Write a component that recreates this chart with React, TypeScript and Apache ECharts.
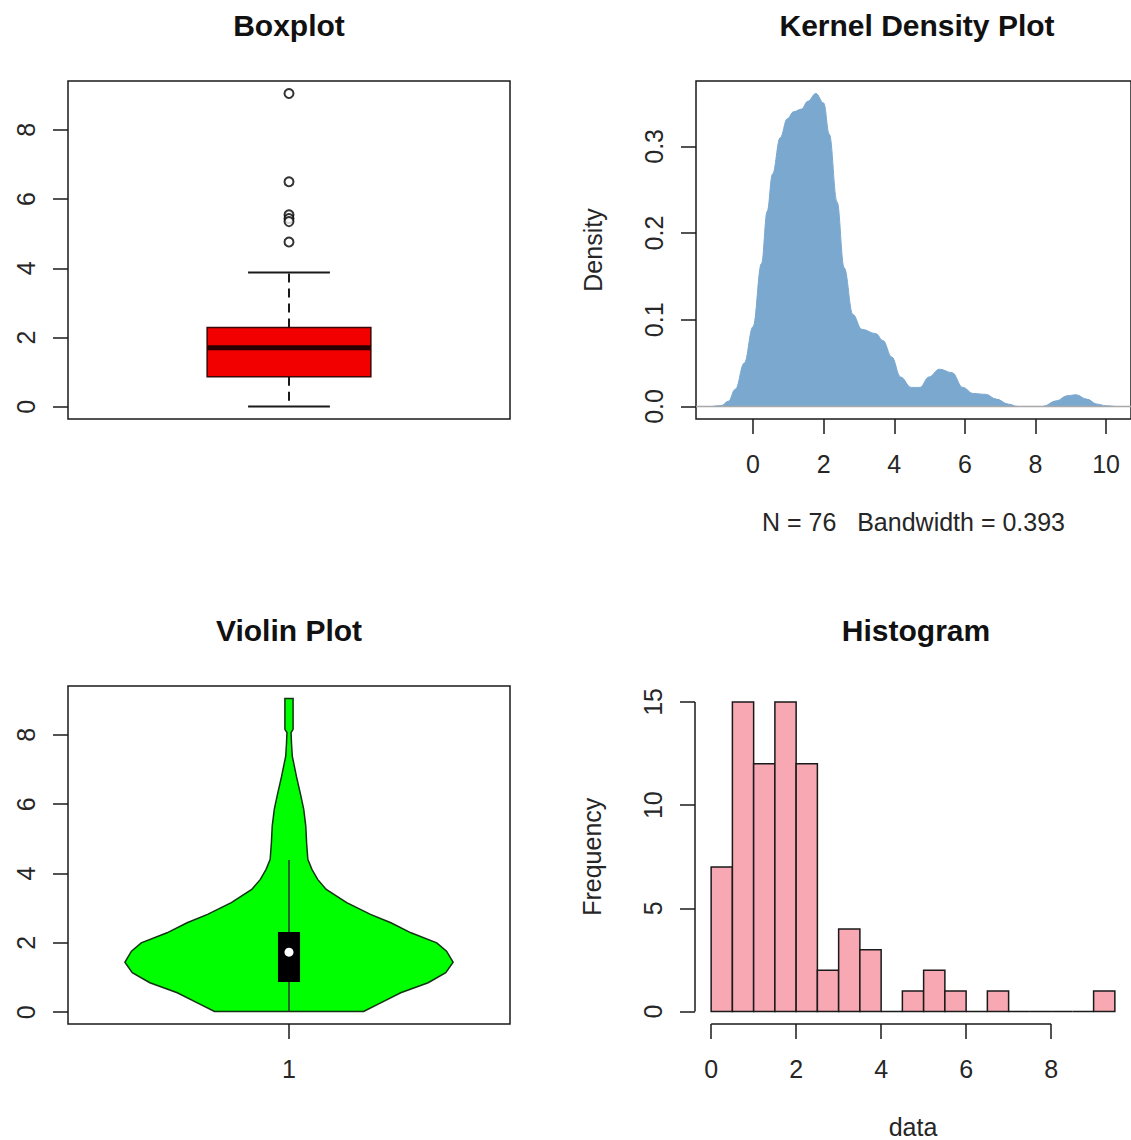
import React, { useEffect, useRef } from "react";
import * as echarts from "echarts";

const FONT = '"Liberation Sans", Arial, Helvetica, sans-serif';
const INK = "#1a1a1a";
const TEXT = "#262626";

const panelTitles = ["Boxplot", "Kernel Density Plot", "Violin Plot", "Histogram"];

// Boxplot summary: lower whisker, Q1, median, Q3, upper whisker
const boxStats = [0.01, 0.87, 1.71, 2.29, 3.88];
const boxOutliers = [9.05, 6.5, 5.55, 5.44, 5.35, 4.76];
const boxYTicks = [0, 2, 4, 6, 8];

// Kernel density estimate (x grid and density)
const kdeX = [
  -1.16, -0.9, -0.7, -0.5, -0.25, 0.0, 0.24, 0.4, 0.55, 0.77, 0.97, 1.15, 1.37, 1.55, 1.78, 2.0,
  2.16, 2.38, 2.58, 2.83, 3.08, 3.48, 3.68, 3.93, 4.18, 4.48, 4.73, 4.98, 5.28, 5.64, 5.94, 6.24,
  6.59, 6.89, 7.24, 7.5, 8.2, 8.6, 8.9, 9.15, 9.45, 9.75, 10.0, 10.25,
];
const kdeY = [
  0, 0.001, 0.006, 0.02, 0.05, 0.092, 0.165, 0.225, 0.268, 0.31, 0.332, 0.34, 0.343, 0.352, 0.361, 0.35,
  0.314, 0.236, 0.16, 0.106, 0.089, 0.084, 0.076, 0.057, 0.034, 0.022, 0.022, 0.034, 0.043, 0.039, 0.022, 0.015,
  0.014, 0.0085, 0.0027, 0, 0, 0.0066, 0.0124, 0.0135, 0.0085, 0.0027, 0.0008, 0,
];
const kdeXTicks = [0, 2, 4, 6, 8, 10];
const kdeYTicks = [0, 0.1, 0.2, 0.3];
const kdeN = 76;
const kdeBandwidth = 0.393;

// Violin outline: height and half width (in x-axis units)
const violinY = [
  0.02, 0.27, 0.56, 0.85, 1.14, 1.44, 1.76, 2.0, 2.29, 2.58, 2.82, 3.16, 3.54, 3.83, 4.12, 4.41,
  4.89, 5.37, 5.85, 6.24, 6.81, 7.39, 7.78, 8.07, 8.16, 9.05,
];
const violinHalfWidth = [
  0.182, 0.224, 0.273, 0.34, 0.383, 0.401, 0.385, 0.361, 0.298, 0.249, 0.199, 0.141, 0.091, 0.07, 0.056, 0.046,
  0.043, 0.041, 0.036, 0.029, 0.018, 0.008, 0.006, 0.005, 0.01, 0.01,
];
// Inner box: whisker low, Q1, median, Q3, whisker high
const violinStats = [0.02, 0.87, 1.73, 2.31, 4.39];
const violinYTicks = [0, 2, 4, 6, 8];
const violinXTicks = [1];

// Histogram bins
const histBreaks = [0, 0.5, 1, 1.5, 2, 2.5, 3, 3.5, 4, 4.5, 5, 5.5, 6, 6.5, 7, 7.5, 8, 8.5, 9, 9.5];
const histCounts = [7, 15, 12, 15, 12, 2, 4, 3, 0, 1, 2, 1, 0, 1, 0, 0, 0, 0, 1];
const histXTicks = [0, 2, 4, 6, 8];
const histYTicks = [0, 5, 10, 15];

// R-style 4% padding of a range
const padded = (lo: number, hi: number) => {
  const e = (hi - lo) * 0.04;
  return [lo - e, hi + e];
};

const BOX_FILL = "#f20000";
const KDE_FILL = "#7ba8cf";
const VIOLIN_FILL = "#00ff00";
const HIST_FILL = "#f7a8b2";

export default function App() {
  const ref = useRef<HTMLDivElement>(null);

  useEffect(() => {
    if (!ref.current) return;
    const chart = echarts.init(ref.current, undefined, { renderer: "svg" });

    const boxYR = padded(Math.min(boxStats[0], ...boxOutliers), Math.max(boxStats[4], ...boxOutliers));
    const xR = padded(0.5, 1.5);
    const kdeXR = padded(kdeX[0], kdeX[kdeX.length - 1]);
    const kdeYR = padded(0, Math.max(...kdeY));
    const vioYR = padded(Math.min(...violinY), Math.max(...violinY));
    const histXR = padded(histBreaks[0], histBreaks[histBreaks.length - 1]);
    const histYR = padded(0, Math.max(...histCounts));

    const label = { fontFamily: FONT, fontSize: 25, color: TEXT };
    const noLine = { show: false, onZero: false };
    const tick = (vals: number[]) => ({
      show: true,
      customValues: vals,
      length: 15,
      lineStyle: { color: INK, width: 1.5 },
    });
    const yLab = (vals: number[], fmt?: (v: number) => string) => ({
      customValues: vals,
      rotate: 90,
      margin: 30,
      ...label,
      ...(fmt ? { formatter: fmt } : {}),
    });
    const xLab = (vals: number[]) => ({ customValues: vals, margin: 32, ...label });
    const nameStyle = { fontFamily: FONT, fontSize: 25, color: TEXT };

    const frame = { show: true, borderColor: INK, borderWidth: 1.5, backgroundColor: "transparent" };

    const titleCenters = [
      [289, 25],
      [917, 25],
      [289, 630],
      [916, 630],
    ];

    const option: any = {
      animation: false,
      backgroundColor: "#ffffff",
      graphic: panelTitles.map((t, i) => ({
        type: "text",
        x: titleCenters[i][0],
        y: titleCenters[i][1],
        style: {
          text: t,
          fontFamily: FONT,
          fontSize: 30,
          fontWeight: "bold",
          fill: "#111",
          align: "center",
          verticalAlign: "middle",
        },
      })),
      grid: [
        { left: 68, top: 81, width: 442, height: 338, ...frame },
        { left: 696, top: 81, width: 442, height: 338, ...frame },
        { left: 68, top: 686, width: 442, height: 338, ...frame },
        { left: 695, top: 689.5, width: 441, height: 334.5, show: false },
      ],
      xAxis: [
        { gridIndex: 0, type: "value", min: xR[0], max: xR[1], show: false, axisLine: noLine },
        {
          gridIndex: 1,
          type: "value",
          min: kdeXR[0],
          max: kdeXR[1],
          axisLine: noLine,
          splitLine: { show: false },
          axisTick: tick(kdeXTicks),
          axisLabel: xLab(kdeXTicks),
          name: `N = ${kdeN}   Bandwidth = ${kdeBandwidth}`,
          nameLocation: "middle",
          nameGap: 90,
          nameTextStyle: nameStyle,
        },
        {
          gridIndex: 2,
          type: "value",
          min: xR[0],
          max: xR[1],
          axisLine: noLine,
          splitLine: { show: false },
          axisTick: tick(violinXTicks),
          axisLabel: xLab(violinXTicks),
        },
        {
          gridIndex: 3,
          type: "value",
          min: histXR[0],
          max: histXR[1],
          axisLine: noLine,
          splitLine: { show: false },
          axisTick: tick(histXTicks),
          axisLabel: xLab(histXTicks),
          name: "data",
          nameLocation: "middle",
          nameGap: 90,
          nameTextStyle: nameStyle,
        },
      ],
      yAxis: [
        {
          gridIndex: 0,
          type: "value",
          min: boxYR[0],
          max: boxYR[1],
          axisLine: noLine,
          splitLine: { show: false },
          axisTick: tick(boxYTicks),
          axisLabel: yLab(boxYTicks),
        },
        {
          gridIndex: 1,
          type: "value",
          min: kdeYR[0],
          max: kdeYR[1],
          axisLine: noLine,
          splitLine: { show: false },
          axisTick: tick(kdeYTicks),
          axisLabel: yLab(kdeYTicks, (v: number) => v.toFixed(1)),
          name: "Density",
          nameLocation: "middle",
          nameRotate: 90,
          nameGap: 91,
          nameTextStyle: nameStyle,
        },
        {
          gridIndex: 2,
          type: "value",
          min: vioYR[0],
          max: vioYR[1],
          axisLine: noLine,
          splitLine: { show: false },
          axisTick: tick(violinYTicks),
          axisLabel: yLab(violinYTicks),
        },
        {
          gridIndex: 3,
          type: "value",
          min: histYR[0],
          max: histYR[1],
          axisLine: noLine,
          splitLine: { show: false },
          axisTick: tick(histYTicks),
          axisLabel: yLab(histYTicks),
          name: "Frequency",
          nameLocation: "middle",
          nameRotate: 90,
          nameGap: 91,
          nameTextStyle: nameStyle,
        },
      ],
      series: [
        // Boxplot with half-width whisker caps and dashed whiskers
        {
          type: "custom",
          xAxisIndex: 0,
          yAxisIndex: 0,
          data: [[1, ...boxStats]],
          encode: { x: 0, y: [1, 2, 3, 4, 5] },
          renderItem: (params: any, api: any) => {
            const x = api.value(0);
            const [lo, q1, med, q3, hi] = [1, 2, 3, 4, 5].map((i) => api.value(i));
            const c = (v: number) => api.coord([x, v]);
            const halfBox = api.size([0.4, 0])[0] / 2;
            const halfCap = api.size([0.2, 0])[0] / 2;
            const cx = c(med)[0];
            const whisker = { stroke: INK, lineWidth: 2, lineDash: [9, 6] };
            const cap = { stroke: INK, lineWidth: 2 };
            return {
              type: "group",
              children: [
                { type: "line", shape: { x1: cx, y1: c(q3)[1], x2: cx, y2: c(hi)[1] }, style: whisker },
                { type: "line", shape: { x1: cx, y1: c(q1)[1], x2: cx, y2: c(lo)[1] }, style: whisker },
                { type: "line", shape: { x1: cx - halfCap, y1: c(hi)[1], x2: cx + halfCap, y2: c(hi)[1] }, style: cap },
                { type: "line", shape: { x1: cx - halfCap, y1: c(lo)[1], x2: cx + halfCap, y2: c(lo)[1] }, style: cap },
                {
                  type: "rect",
                  shape: { x: cx - halfBox, y: c(q3)[1], width: halfBox * 2, height: c(q1)[1] - c(q3)[1] },
                  style: { fill: BOX_FILL, stroke: "#3a0808", lineWidth: 1.5 },
                },
                {
                  type: "line",
                  shape: { x1: cx - halfBox, y1: c(med)[1], x2: cx + halfBox, y2: c(med)[1] },
                  style: { stroke: "#2a0000", lineWidth: 5 },
                },
              ],
            };
          },
        },
        {
          type: "scatter",
          xAxisIndex: 0,
          yAxisIndex: 0,
          symbol: "emptyCircle",
          symbolSize: 9,
          itemStyle: { color: "#000", borderColor: "#000", borderWidth: 2.2 },
          data: boxOutliers.map((v) => [1, v]),
        },
        // Kernel density curve with filled area
        {
          type: "line",
          xAxisIndex: 1,
          yAxisIndex: 1,
          data: kdeX.map((x, i) => [x, kdeY[i]]),
          smooth: 0.4,
          smoothMonotone: "x",
          symbol: "none",
          lineStyle: { color: KDE_FILL, width: 1 },
          areaStyle: { color: KDE_FILL, opacity: 1 },
        },
        {
          type: "line",
          xAxisIndex: 1,
          yAxisIndex: 1,
          data: [
            [kdeXR[0], 0],
            [kdeXR[1], 0],
          ],
          symbol: "none",
          lineStyle: { color: "#a8a8a8", width: 1.5 },
        },
        // Violin outline with inner box and median point
        {
          type: "custom",
          xAxisIndex: 2,
          yAxisIndex: 2,
          data: [[1, ...violinStats]],
          encode: { x: 0, y: [1, 2, 3, 4, 5] },
          renderItem: (params: any, api: any) => {
            const x = api.value(0);
            const [lo, q1, med, q3, hi] = [1, 2, 3, 4, 5].map((i) => api.value(i));
            const right = violinY.map((y, i) => api.coord([x + violinHalfWidth[i], y]));
            const left = violinY.map((y, i) => api.coord([x - violinHalfWidth[i], y])).reverse();
            const c = (v: number) => api.coord([x, v]);
            const halfBox = api.size([0.027, 0])[0];
            const cx = c(med)[0];
            return {
              type: "group",
              children: [
                {
                  type: "polygon",
                  shape: { points: right.concat(left) },
                  style: { fill: VIOLIN_FILL, stroke: "#123312", lineWidth: 1.5 },
                },
                {
                  type: "line",
                  shape: { x1: cx, y1: c(lo)[1], x2: cx, y2: c(hi)[1] },
                  style: { stroke: "#333", lineWidth: 1.5 },
                },
                {
                  type: "rect",
                  shape: { x: cx - halfBox, y: c(q3)[1], width: halfBox * 2, height: c(q1)[1] - c(q3)[1] },
                  style: { fill: "#000" },
                },
                {
                  type: "circle",
                  shape: { cx, cy: c(med)[1], r: 4.5 },
                  style: { fill: "#fff" },
                },
              ],
            };
          },
        },
        // Histogram bars
        {
          type: "custom",
          xAxisIndex: 3,
          yAxisIndex: 3,
          data: histCounts.map((n, i) => [histBreaks[i], histBreaks[i + 1], n]),
          encode: { x: [0, 1], y: 2 },
          renderItem: (params: any, api: any) => {
            const a = api.coord([api.value(0), api.value(2)]);
            const b = api.coord([api.value(1), 0]);
            return {
              type: "rect",
              shape: { x: a[0], y: a[1], width: b[0] - a[0], height: b[1] - a[1] },
              style: { fill: HIST_FILL, stroke: INK, lineWidth: 1.5 },
            };
          },
        },
        // Histogram axis lines spanning first to last tick
        {
          type: "line",
          xAxisIndex: 3,
          yAxisIndex: 3,
          clip: false,
          symbol: "none",
          lineStyle: { color: INK, width: 1.5 },
          data: [
            [histXR[0], histYTicks[0]],
            [histXR[0], histYTicks[histYTicks.length - 1]],
          ],
        },
        {
          type: "line",
          xAxisIndex: 3,
          yAxisIndex: 3,
          clip: false,
          symbol: "none",
          lineStyle: { color: INK, width: 1.5 },
          data: [
            [histXTicks[0], histYR[0]],
            [histXTicks[histXTicks.length - 1], histYR[0]],
          ],
        },
      ],
    };

    chart.setOption(option);
    return () => chart.dispose();
  }, []);

  return (
    <div
      ref={ref}
      style={{ position: "absolute", left: 0, top: 0, width: 1131, height: 1140, overflow: "hidden" }}
    />
  );
}
